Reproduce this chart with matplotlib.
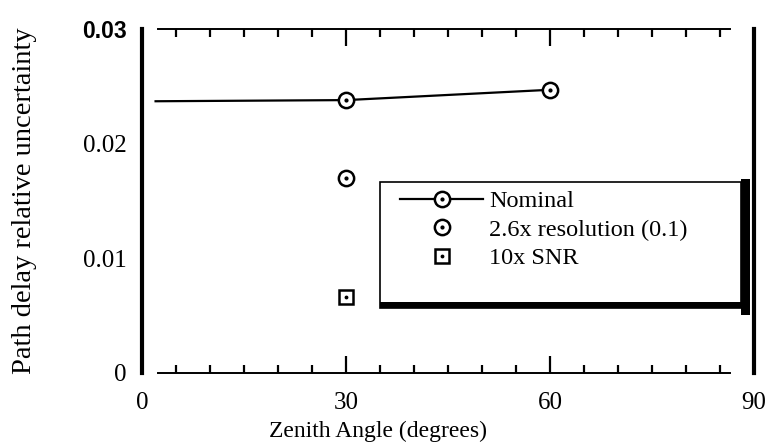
import matplotlib
matplotlib.use("Agg")
import matplotlib.pyplot as plt
from matplotlib.legend_handler import HandlerTuple
from matplotlib.lines import Line2D
from matplotlib.patches import Rectangle
from matplotlib.ticker import MultipleLocator

plt.rcParams["font.family"] = ["Liberation Serif", "DejaVu Serif"]

# data
nominal_x = [2, 30, 60]
nominal_y = [0.0237, 0.0238, 0.0247]
res_x = [30]
res_y = [0.0170]
snr_x = [30]
snr_y = [0.0066]

x_ticks = [0, 30, 60, 90]
x_ticklabels = ["0", "30", "60", "90"]
y_ticks = [0, 0.01, 0.02, 0.03]
y_ticklabels = ["0", "0.01", "0.02", "0.03"]

fig = plt.figure(figsize=(7.67, 4.45), dpi=100)
ax = fig.add_axes([0.1851, 0.1618, 0.798, 0.773])

ms = 11
mew = 1.8
ax.plot(nominal_x, nominal_y, color="black", lw=1.6, zorder=2)
ax.plot(nominal_x[1:], nominal_y[1:], ls="none", marker="o", ms=ms, mfc="white",
        mec="black", mew=mew, zorder=3)
ax.plot(nominal_x[1:], nominal_y[1:], ls="none", marker=".", ms=4, color="black", zorder=4)
ax.plot(res_x, res_y, ls="none", marker="o", ms=ms, mfc="white", mec="black", mew=mew)
ax.plot(res_x, res_y, ls="none", marker=".", ms=4, color="black")
ax.plot(snr_x, snr_y, ls="none", marker="s", ms=9.5, mfc="white", mec="black", mew=mew)
ax.plot(snr_x, snr_y, ls="none", marker=".", ms=3.5, color="black")

ax.set_xlim(0, 90)
ax.set_ylim(0, 0.03)

for side in ["left", "right"]:
    ax.spines[side].set_linewidth(3)
for side in ["top", "bottom"]:
    ax.spines[side].set_linewidth(1.4)
    ax.spines[side].set_bounds(2.3, 86.5)

ax.set_xticks(x_ticks)
ax.set_xticklabels(x_ticklabels, fontsize=18)
ax.xaxis.set_minor_locator(MultipleLocator(5))
ax.tick_params(axis="x", which="major", direction="in", length=12, width=1.6,
               top=True, bottom=True, pad=14)
ax.tick_params(axis="x", which="minor", direction="in", length=5.5, width=1.6,
               top=True, bottom=True)

ax.set_yticks(y_ticks)
ax.set_yticklabels(y_ticklabels, fontsize=18)
ax.tick_params(axis="y", length=0, pad=11)
lab = ax.get_yticklabels()[-1]
lab.set_family(["Liberation Sans Narrow", "Liberation Sans"])
lab.set_fontweight("bold")
lab.set_fontsize(16.5)

ax.set_xlabel("Zenith Angle (degrees)", fontsize=17)
ax.xaxis.set_label_coords(0.386, -0.14)
ax.set_ylabel("Path delay relative uncertainty", fontsize=20.5, labelpad=32)

# legend
h_nom = Line2D([], [], color="black", lw=1.6, marker="o", ms=ms, mfc="white",
               mec="black", mew=mew)
h_dot = Line2D([], [], ls="none", marker=".", ms=4, color="black")
h_res = Line2D([], [], ls="none", marker="o", ms=ms, mfc="white", mec="black", mew=mew)
h_snr = Line2D([], [], ls="none", marker="s", ms=9.5, mfc="white", mec="black", mew=mew)
h_dot2 = Line2D([], [], ls="none", marker=".", ms=3.5, color="black")
leg = ax.legend([(h_nom, h_dot), (h_res, h_dot), (h_snr, h_dot2)],
                ["Nominal", "2.6x resolution (0.1)", "10x SNR"],
                handler_map={tuple: HandlerTuple(ndivide=1, pad=0)},
                loc="upper left", bbox_to_anchor=(0.422, 0.532), frameon=False,
                fontsize=17.5, handlelength=3.4, handletextpad=0.25,
                borderpad=0, borderaxespad=0, labelspacing=0.27)

# legend box with heavy bottom and right edge
box_kw = dict(transform=ax.transAxes, clip_on=False, zorder=5)
ax.add_patch(Rectangle((0.389, 0.189), 0.589, 0.366, fill=False, lw=1.2,
                       edgecolor="black", **box_kw))
ax.add_patch(Rectangle((0.389, 0.189), 0.589, 0.017, color="black", lw=0, **box_kw))
ax.add_patch(Rectangle((0.978, 0.169), 0.016, 0.395, color="black", lw=0, **box_kw))

fig.savefig("out.png", dpi=100)
